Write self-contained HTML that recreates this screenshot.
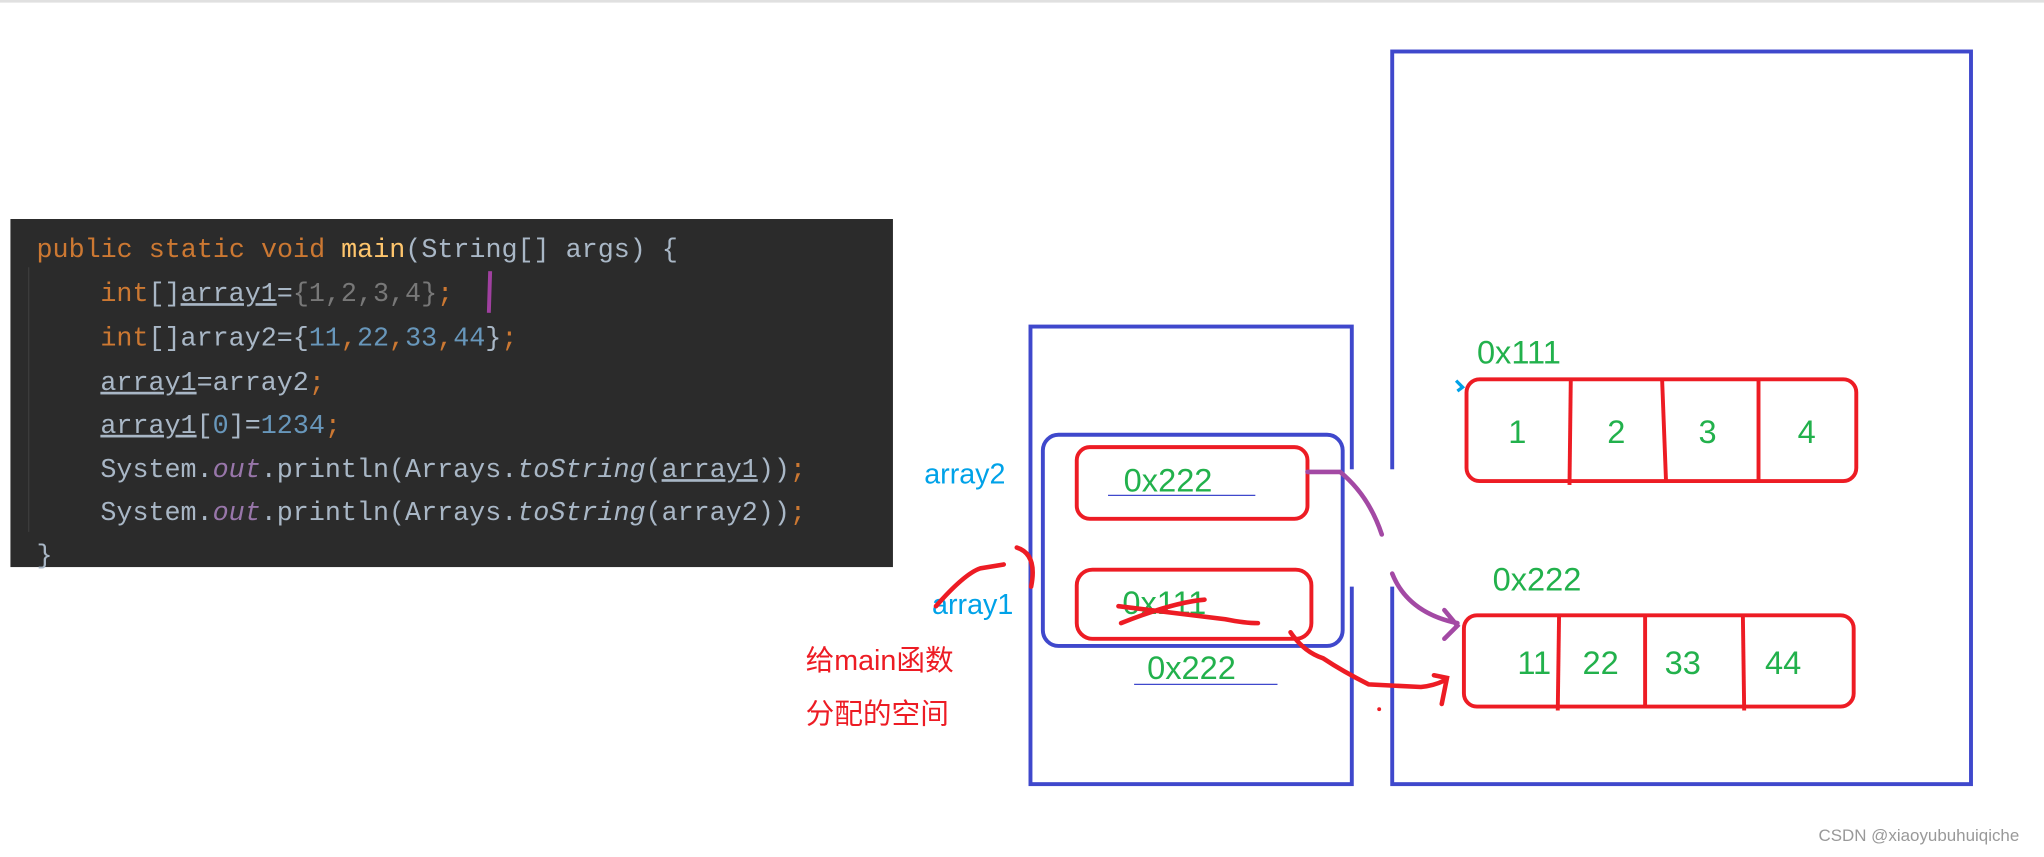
<!DOCTYPE html>
<html><head><meta charset="utf-8"><style>
html,body{margin:0;padding:0;background:#fff;width:2044px;height:857px;overflow:hidden}
svg{display:block}
</style></head><body>
<svg width="2044" height="857" viewBox="0 0 1568 657.4" preserveAspectRatio="none" xmlns="http://www.w3.org/2000/svg">
<rect x="0" y="0" width="1568" height="2" fill="#e0e0e0"/>
<rect x="8" y="168" width="677" height="267" fill="#2b2b2b"/>
<line x1="22" y1="205" x2="22" y2="408" stroke="#3c3c3c" stroke-width="1"/>
<g font-family="'Liberation Mono','DejaVu Sans Mono',monospace" font-size="20.5" fill="#a9b7c6">
<text x="28" y="197"><tspan fill="#cc7832">public static void </tspan><tspan fill="#ffc66d">main</tspan>(String[] args) {</text>
<text x="77" y="231"><tspan fill="#cc7832">int</tspan>[]<tspan text-decoration="underline">array1</tspan>=<tspan fill="#787878">{1,2,3,4}</tspan><tspan fill="#cc7832">;</tspan></text>
<text x="77" y="265"><tspan fill="#cc7832">int</tspan>[]array2={<tspan fill="#6897bb">11</tspan><tspan fill="#cc7832">,</tspan><tspan fill="#6897bb">22</tspan><tspan fill="#cc7832">,</tspan><tspan fill="#6897bb">33</tspan><tspan fill="#cc7832">,</tspan><tspan fill="#6897bb">44</tspan>}<tspan fill="#cc7832">;</tspan></text>
<text x="77" y="299"><tspan text-decoration="underline">array1</tspan>=array2<tspan fill="#cc7832">;</tspan></text>
<text x="77" y="332"><tspan text-decoration="underline">array1</tspan>[<tspan fill="#6897bb">0</tspan>]=<tspan fill="#6897bb">1234</tspan><tspan fill="#cc7832">;</tspan></text>
<text x="77" y="366">System.<tspan fill="#9876aa" font-style="italic">out</tspan>.println(Arrays.<tspan font-style="italic">toString</tspan>(<tspan text-decoration="underline">array1</tspan>))<tspan fill="#cc7832">;</tspan></text>
<text x="77" y="399">System.<tspan fill="#9876aa" font-style="italic">out</tspan>.println(Arrays.<tspan font-style="italic">toString</tspan>(array2))<tspan fill="#cc7832">;</tspan></text>
<text x="28" y="432">}</text>
</g>
<line x1="376" y1="208" x2="375" y2="240" stroke="#a040a0" stroke-width="3"/>
<rect x="790.5" y="250.5" width="246.5" height="351" fill="none" stroke="#3f48cc" stroke-width="3"/>
<rect x="1068" y="39.5" width="444" height="562" fill="none" stroke="#3f48cc" stroke-width="3"/>
<rect x="1030" y="360" width="40" height="90" fill="#fff"/>
<rect x="800" y="333.5" width="230" height="162" rx="12" fill="#fff" stroke="#3f48cc" stroke-width="3"/>
<g fill="none" stroke="#ed1c24" stroke-width="3">
<rect x="826" y="343" width="177" height="55" rx="10"/>
<rect x="826" y="437" width="180" height="53" rx="12"/>
<rect x="1125" y="291" width="299" height="78" rx="10"/>
<line x1="1205" y1="290" x2="1204" y2="372"/>
<line x1="1275" y1="290" x2="1278" y2="368"/>
<line x1="1349" y1="290" x2="1349" y2="369"/>
<rect x="1123" y="472" width="299" height="70" rx="10"/>
<line x1="1196" y1="472" x2="1195" y2="545"/>
<line x1="1262" y1="472" x2="1262" y2="542"/>
<line x1="1337" y1="472" x2="1338" y2="545"/>
</g>
<line x1="850" y1="380" x2="963" y2="380" stroke="#3f48cc" stroke-width="1"/>
<line x1="870" y1="525" x2="980" y2="525" stroke="#3f48cc" stroke-width="1"/>
<g font-family="'Liberation Sans','DejaVu Sans',sans-serif" font-size="25" fill="#22b14c">
<text x="862" y="377">0x222</text>
<text x="861" y="471">0x111</text>
<text x="880" y="521">0x222</text>
<text x="1133" y="279">0x111</text>
<text x="1145" y="453">0x222</text>
<text x="1157" y="340">1</text>
<text x="1233" y="340">2</text>
<text x="1303" y="340">3</text>
<text x="1379" y="340">4</text>
<text x="1164" y="517">11</text>
<text x="1214" y="517">22</text>
<text x="1277" y="517">33</text>
<text x="1354" y="517">44</text>
</g>
<path d="M860 478 Q900 462 924 460 M858 465 Q900 470 940 475 Q955 478 965 478" fill="none" stroke="#ed1c24" stroke-width="3.5" stroke-linecap="round"/>
<g font-family="'Liberation Sans','DejaVu Sans',sans-serif" font-size="22" fill="#00a2e8">
<text x="709" y="371">array2</text>
<text x="715" y="471">array1</text>
</g>
<path d="M718 465 Q740 440 752 436 L770 433 M780 420 Q796 425 791 450" fill="none" stroke="#ed1c24" stroke-width="3.5" stroke-linecap="round"/>
<path d="M1003 362 L1028 362 Q1050 380 1060 410 M1068 440 Q1080 470 1118 478 M1108 468 L1118 480 L1108 490" fill="none" stroke="#a349a4" stroke-width="3.5" stroke-linecap="round"/>
<path d="M1117 292 L1122 297 L1118 300" fill="none" stroke="#00a2e8" stroke-width="2.5"/>
<path d="M990 485 Q1000 500 1015 505 Q1030 515 1050 525 L1090 527 Q1100 526 1108 522 M1100 518 L1110 520 L1106 540" fill="none" stroke="#ed1c24" stroke-width="3.5" stroke-linecap="round"/>
<circle cx="1058" cy="544" r="1.5" fill="#ed1c24"/>
<g font-family="'Liberation Sans','Noto Sans CJK SC',sans-serif" font-size="22" fill="#ed1c24">
<text x="618" y="514">给main函数</text>
<text x="618" y="555">分配的空间</text>
</g>
<text x="1395" y="645" font-family="'Liberation Sans',sans-serif" font-size="13" fill="#999">CSDN @xiaoyubuhuiqiche</text>
</svg>
</body></html>
